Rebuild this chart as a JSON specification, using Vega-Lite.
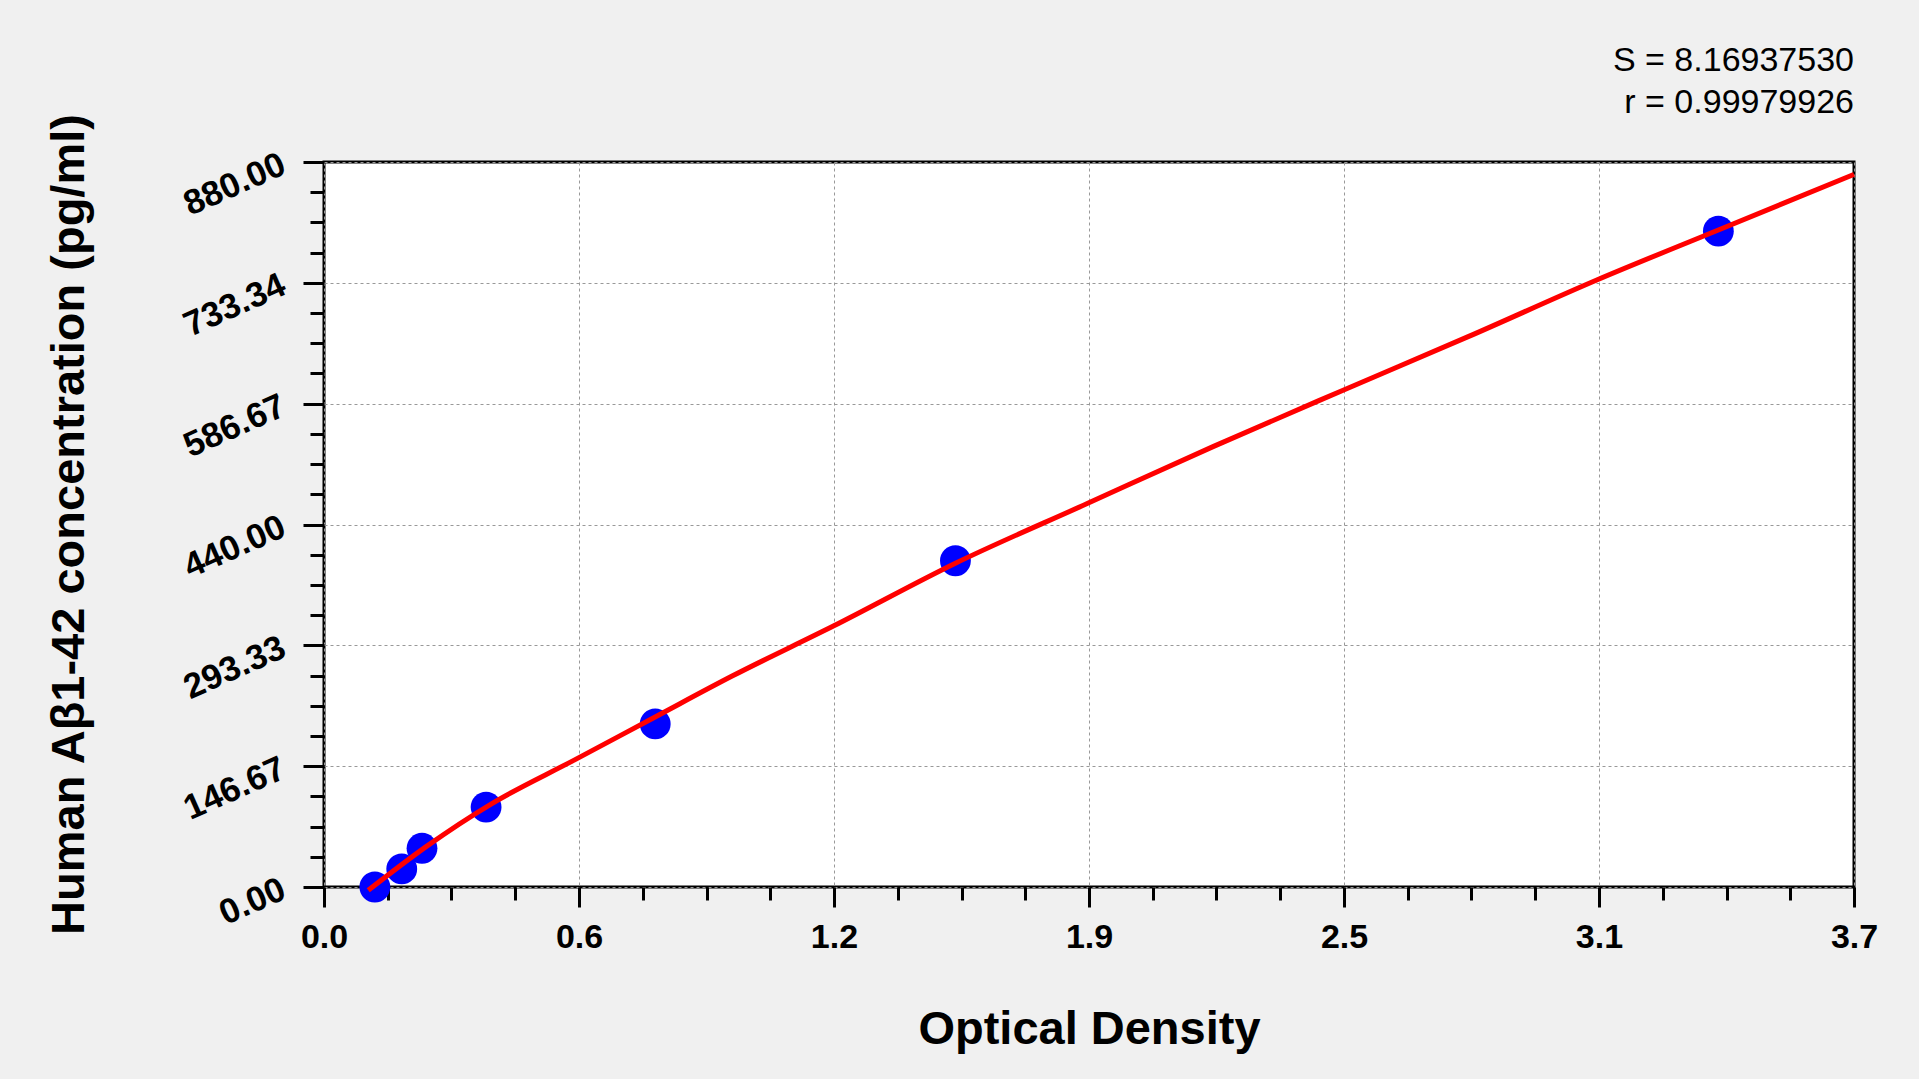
{
  "$schema": "https://vega.github.io/schema/vega-lite/v6.json",
  "width": 1530,
  "height": 725,
  "autosize": {"type": "none"},
  "padding": {"left": 324, "top": 162, "right": 65, "bottom": 192},
  "background": "#f0f0f0",
  "title": {
    "text": "S = 8.16937530",
    "subtitle": "r = 0.99979926",
    "anchor": "end",
    "frame": "group",
    "font": "Liberation Sans",
    "fontSize": 34,
    "fontWeight": "normal",
    "color": "black",
    "subtitleFont": "Liberation Sans",
    "subtitleFontSize": 34,
    "subtitleColor": "black",
    "subtitlePadding": 8,
    "offset": -7
  },
  "datasets": {
    "standards": [
      {"od": 0.123, "conc": 0},
      {"od": 0.188, "conc": 22},
      {"od": 0.237, "conc": 47},
      {"od": 0.392, "conc": 97},
      {"od": 0.801, "conc": 198},
      {"od": 1.527, "conc": 396},
      {"od": 3.372, "conc": 796}
    ],
    "fit": [
      {"od": 0.107, "conc": -4},
      {"od": 0.247, "conc": 49},
      {"od": 0.407, "conc": 101.6},
      {"od": 0.605, "conc": 154},
      {"od": 0.802, "conc": 206.7},
      {"od": 0.987, "conc": 256},
      {"od": 1.233, "conc": 317},
      {"od": 1.527, "conc": 393},
      {"od": 1.847, "conc": 465.7},
      {"od": 2.15, "conc": 534.5},
      {"od": 2.466, "conc": 603.3},
      {"od": 2.767, "conc": 668},
      {"od": 3.078, "conc": 736.8},
      {"od": 3.372, "conc": 797.5},
      {"od": 3.7, "conc": 865}
    ]
  },
  "config": {
    "font": "Liberation Sans",
    "view": {"fill": "white", "stroke": "black", "strokeWidth": 3},
    "axis": {
      "domain": false,
      "tickColor": "black",
      "tickWidth": 3,
      "labelColor": "black",
      "labelFont": "Liberation Sans",
      "labelFontWeight": "bold",
      "labelFontSize": 34,
      "labelFlush": false,
      "labelOverlap": false,
      "titleColor": "black",
      "titleFont": "Liberation Sans",
      "titleFontWeight": "bold",
      "titleFontSize": 47,
      "gridColor": "#999999",
      "gridDash": [3, 3],
      "gridWidth": 1
    }
  },
  "resolve": {"axis": {"x": "independent", "y": "independent"}},
  "layer": [
    {
      "data": {"name": "standards"},
      "mark": {"type": "circle", "color": "#0000ff", "opacity": 1, "size": 950},
      "encoding": {
        "x": {
          "field": "od",
          "type": "quantitative",
          "scale": {"domain": [0, 3.7], "nice": false, "zero": false},
          "axis": {
            "orient": "bottom",
            "values": [0.1542, 0.3083, 0.4625, 0.7708, 0.925, 1.0792, 1.3875, 1.5417, 1.6958, 2.0042, 2.1583, 2.3125, 2.6208, 2.775, 2.9292, 3.2375, 3.3917, 3.5458],
            "tickSize": 13,
            "labels": false,
            "grid": false,
            "title": null
          }
        },
        "y": {
          "field": "conc",
          "type": "quantitative",
          "scale": {"domain": [0, 880], "nice": false, "zero": false},
          "axis": {
            "orient": "left",
            "values": [36.67, 73.33, 110, 183.33, 220, 256.67, 330, 366.67, 403.33, 476.67, 513.33, 550, 623.33, 660, 696.67, 770, 806.67, 843.33],
            "tickSize": 14,
            "labels": false,
            "grid": false,
            "title": null
          }
        }
      }
    },
    {
      "data": {"name": "fit"},
      "mark": {"type": "line", "color": "#ff0000", "strokeWidth": 5, "interpolate": "monotone"},
      "encoding": {
        "x": {
          "field": "od",
          "type": "quantitative",
          "axis": {
            "orient": "bottom",
            "values": [0, 0.61667, 1.23333, 1.85001, 2.46667, 3.08333, 3.7],
            "format": ".1f",
            "tickSize": 20,
            "labelPadding": 13,
            "grid": true,
            "title": "Optical Density",
            "titleX": 765,
            "titleY": 156,
            "titleBaseline": "alphabetic"
          }
        },
        "y": {
          "field": "conc",
          "type": "quantitative",
          "axis": {
            "orient": "left",
            "values": [0, 146.67, 293.33, 440, 586.67, 733.34, 880],
            "format": ".2f",
            "tickSize": 21,
            "labelPadding": 20,
            "labelAngle": -24,
            "labelFontSize": 35,
            "labelAlign": "right",
            "labelBaseline": "middle",
            "grid": true,
            "title": "Human Aβ1-42 concentration (pg/ml)",
            "titleAngle": -90,
            "titleX": -241,
            "titleY": 362,
            "titleAlign": "center",
            "titleBaseline": "alphabetic"
          }
        }
      }
    }
  ]
}
